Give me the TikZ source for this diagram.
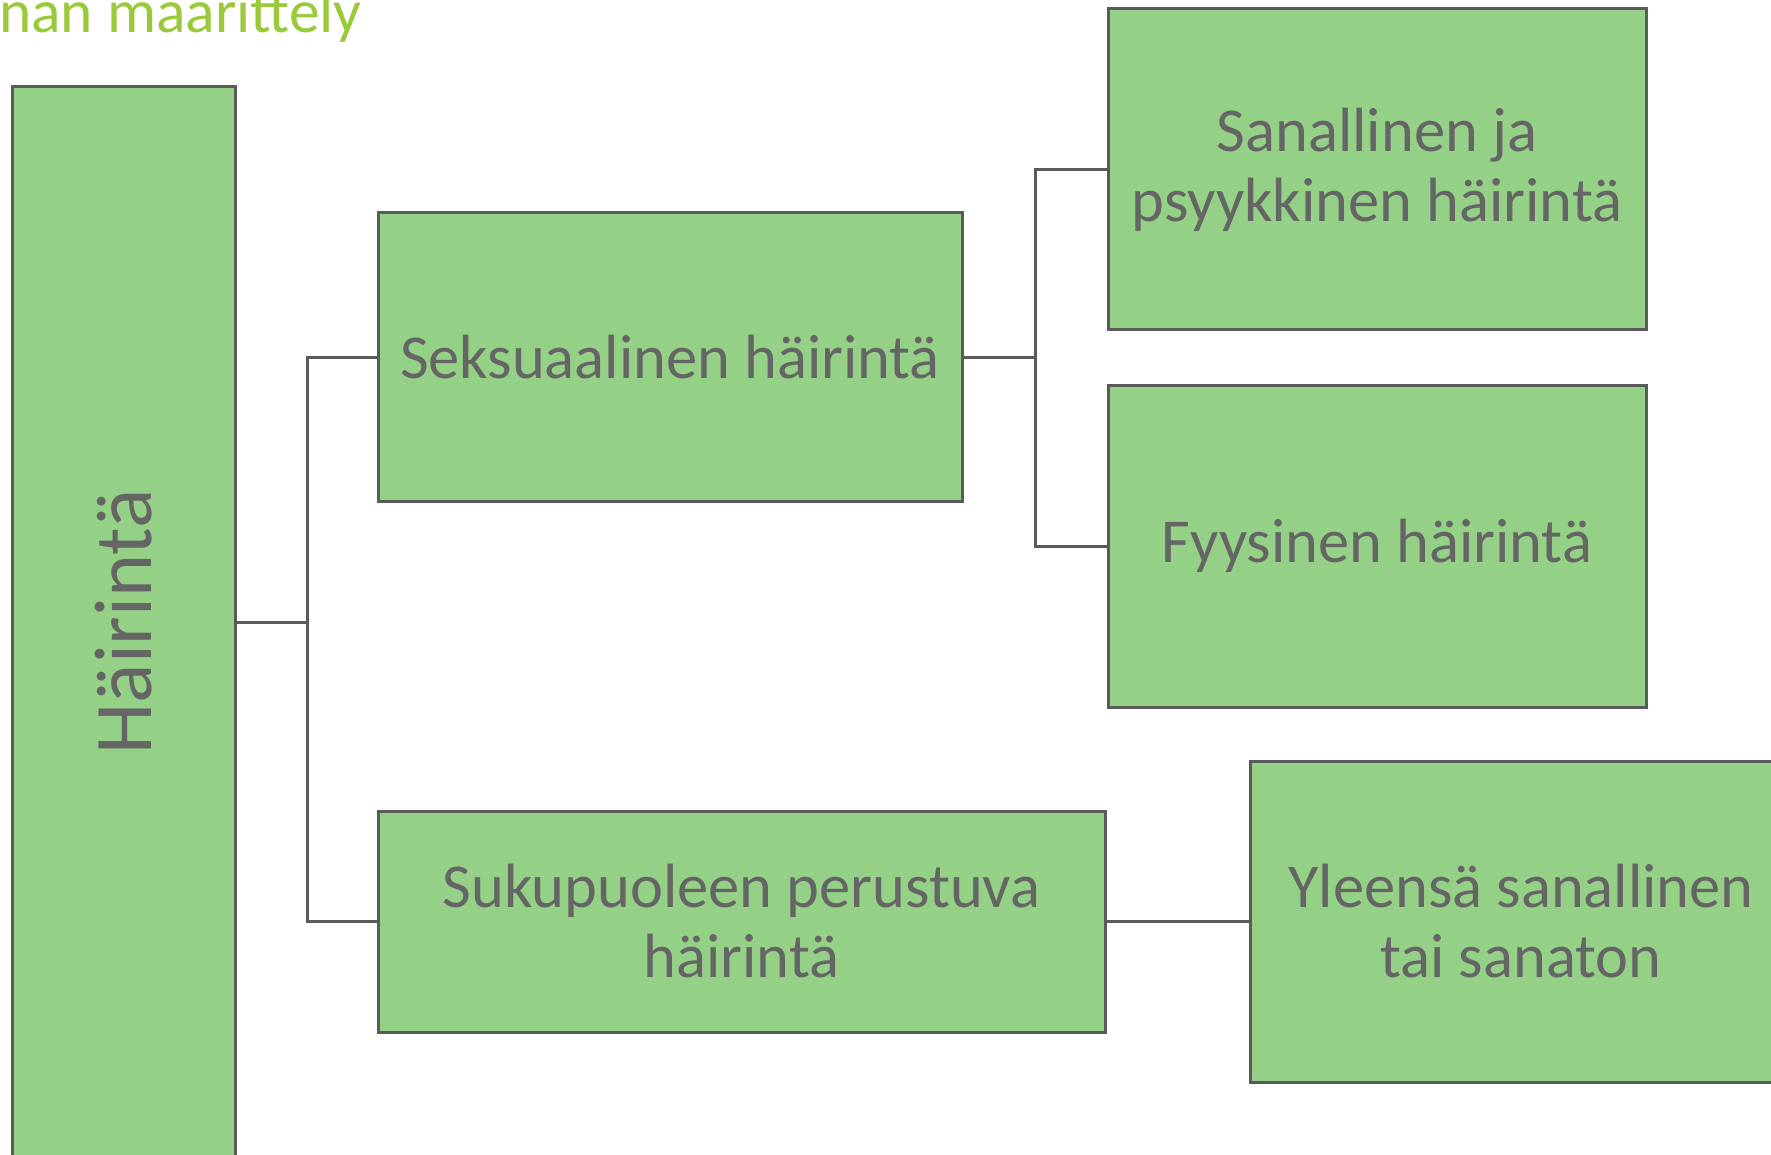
\documentclass[tikz,border=0pt]{standalone}
\usepackage{fontspec}
\setmainfont{Carlito}
\definecolor{boxfill}{HTML}{94D085}
\definecolor{boxline}{HTML}{5A5A5A}
\definecolor{txtgray}{HTML}{656565}
\definecolor{titlegreen}{HTML}{9ACA3C}
\tikzset{
  cbox/.style={draw=boxline, fill=boxfill, line width=3pt, rectangle, inner sep=0pt,
    align=center, text=txtgray, font=\fontsize{62.5}{70}\selectfont},
  conn/.style={draw=boxline, line width=3pt}
}
\begin{document}
\begin{tikzpicture}[x=1pt,y=-1pt]
\useasboundingbox (0,0) rectangle (1771,1155);
\node[anchor=base east, text=titlegreen, inner sep=0pt, font=\fontsize{61.5}{68}\selectfont] (title) at (362,33) {Häirinnän määrittely};
\node[cbox, minimum width=223pt, minimum height=1070pt, font=\fontsize{82}{90}\selectfont] (main) at (123.5,622) {\rotatebox{90}{Häirintä}};
\node[cbox, minimum width=584pt, minimum height=288pt] (seks) at (670,357) {Seksuaalinen häirintä};
\node[cbox, minimum width=727pt, minimum height=221pt] (suku) at (741.5,921.5) {Sukupuoleen perustuva\\häirintä};
\node[cbox, minimum width=538pt, minimum height=321pt] (sana) at (1377,169.5) {Sanallinen ja\\psyykkinen häirintä};
\node[cbox, minimum width=538pt, minimum height=322pt] (fyys) at (1377,546) {Fyysinen häirintä};
\node[cbox, minimum width=542pt, minimum height=321pt] (ylee) at (1521,921.5) {Yleensä sanallinen\\tai sanaton};
\coordinate (t1) at (307,622);
\coordinate (t2) at (1035,357);
\draw[conn] (main.east) -- (t1);
\draw[conn] (seks.west) -| (t1) |- (suku.west);
\draw[conn] (seks.east) -- (t2);
\draw[conn] (sana.west) -| (t2) |- (fyys.west);
\draw[conn] (suku.east) -- (ylee.west);
\end{tikzpicture}
\end{document}
